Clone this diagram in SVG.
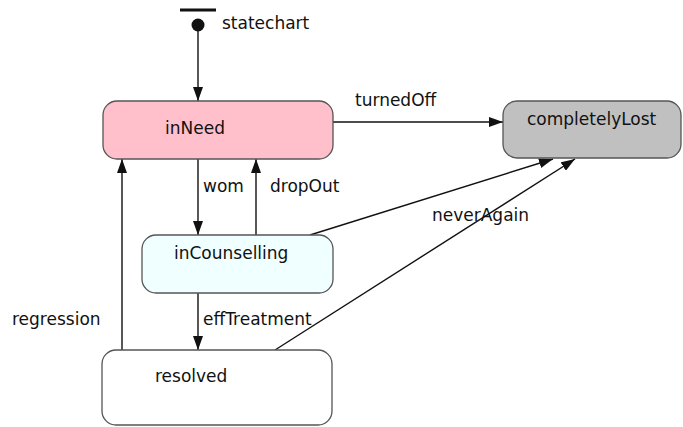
<svg xmlns="http://www.w3.org/2000/svg" width="683" height="427" viewBox="0 0 683 427">
<style>
.st{stroke:#555;stroke-width:1.3}
.t{font-family:"DejaVu Sans",Verdana,sans-serif;font-size:17px;fill:#111}
.c{stroke:#111;stroke-width:1.4;fill:none}
</style>
<defs>
<marker id="a" markerWidth="14" markerHeight="10" refX="14" refY="5" orient="auto" markerUnits="userSpaceOnUse">
<path d="M0,0 L14,5 L0,10 Z" fill="#111"/>
</marker>
</defs>
<rect width="683" height="427" fill="#fff"/>
<g id="connectors">
<line class="c" x1="198" y1="25" x2="198" y2="101" marker-end="url(#a)"/>
<line class="c" x1="198" y1="159" x2="198" y2="235" marker-end="url(#a)"/>
<line class="c" x1="256" y1="235" x2="256" y2="159" marker-end="url(#a)"/>
<line class="c" x1="198" y1="293" x2="198" y2="350" marker-end="url(#a)"/>
<line class="c" x1="122" y1="350" x2="122" y2="159" marker-end="url(#a)"/>
<line class="c" x1="333" y1="122" x2="503" y2="122" marker-end="url(#a)"/>
<line class="c" x1="310" y1="235" x2="553" y2="159" marker-end="url(#a)"/>
<line class="c" x1="275" y1="350" x2="575" y2="159" marker-end="url(#a)"/>
<text class="t" x="355" y="106">turnedOff</text>
<text class="t" x="203" y="192">wom</text>
<text class="t" x="270" y="192">dropOut</text>
<text class="t" x="203" y="325">effTreatment</text>
<text class="t" x="12" y="325">regression</text>
<text class="t" x="432" y="221">neverAgain</text>
</g>
<g id="statechart">
<line x1="180" y1="10" x2="216" y2="10" stroke="#111" stroke-width="3"/>
<circle cx="198" cy="25" r="6.5" fill="#111"/>
<text class="t" x="222" y="29">statechart</text>
</g>
<g id="inNeed">
<rect class="st" x="103" y="101" width="230" height="58" rx="14" fill="#ffc0cb"/>
<text class="t" x="165" y="134">inNeed</text>
</g>
<g id="completelyLost">
<rect class="st" x="503" y="101" width="178" height="57" rx="14" fill="#c0c0c0"/>
<text class="t" x="527" y="125">completelyLost</text>
</g>
<g id="inCounselling">
<rect class="st" x="142" y="235" width="191" height="58" rx="14" fill="#f0ffff"/>
<text class="t" x="174" y="259">inCounselling</text>
</g>
<g id="resolved">
<rect class="st" x="102" y="350" width="230" height="75" rx="14" fill="#fff"/>
<text class="t" x="155" y="382">resolved</text>
</g>
</svg>
